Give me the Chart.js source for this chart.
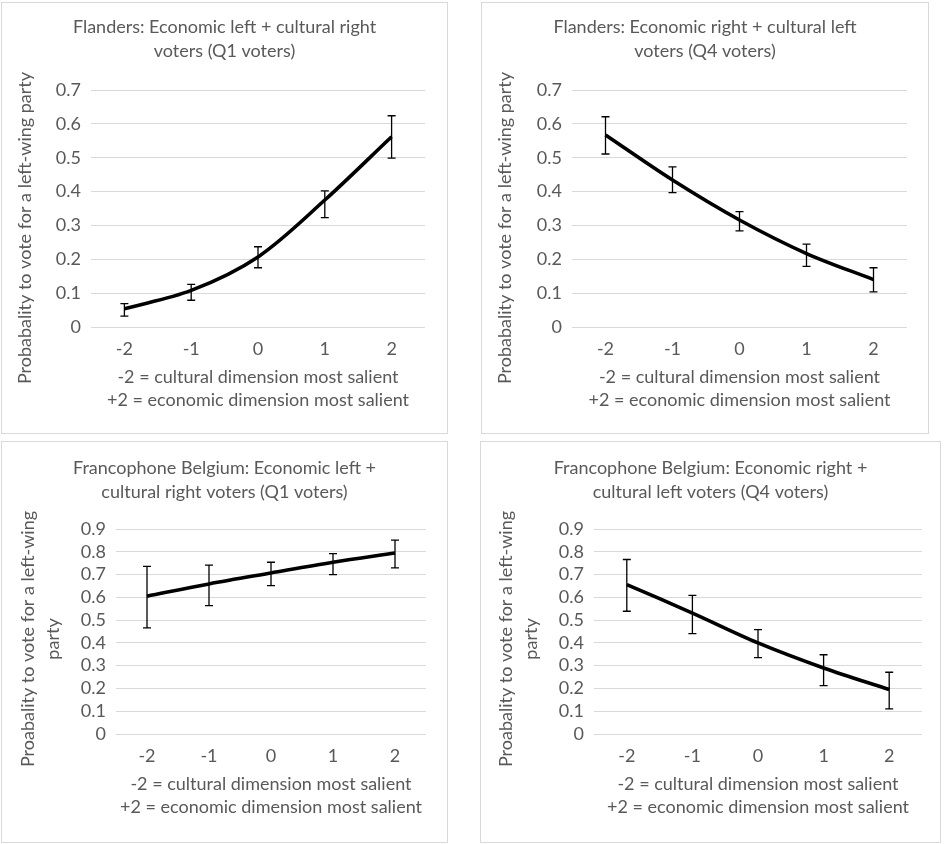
<!DOCTYPE html>
<html>
<head>
<meta charset="utf-8">
<script src="https://cdn.jsdelivr.net/npm/chart.js@4/dist/chart.umd.min.js"></script>
<style>
  html, body { margin: 0; padding: 0; background: #fff; }
  body { width: 944px; height: 844px; position: relative; overflow: hidden; }
  .panel { position: absolute; border: 1px solid #d9d9d9; background: #fff; }
  .panel canvas { display: block; }
</style>
</head>
<body>
<div class="panel" style="left:1px;top:2px;width:445px;height:430px"><canvas id="c1"></canvas></div>
<div class="panel" style="left:481px;top:2px;width:446px;height:430px"><canvas id="c2"></canvas></div>
<div class="panel" style="left:1px;top:441px;width:445px;height:400px"><canvas id="c3"></canvas></div>
<div class="panel" style="left:480px;top:441px;width:459px;height:400px"><canvas id="c4"></canvas></div>
<script>
// categories on the x axis
const categories = ['-2', '-1', '0', '1', '2'];

// Flanders: economic left + cultural right (Q1)
const flQ1 = [0.054, 0.108, 0.207, 0.375, 0.562];
const flQ1Lo = [0.032, 0.079, 0.175, 0.323, 0.499];
const flQ1Hi = [0.069, 0.126, 0.237, 0.402, 0.624];

// Flanders: economic right + cultural left (Q4)
const flQ4 = [0.567, 0.434, 0.316, 0.217, 0.140];
const flQ4Lo = [0.511, 0.397, 0.284, 0.179, 0.104];
const flQ4Hi = [0.621, 0.473, 0.341, 0.245, 0.175];

// Francophone Belgium: economic left + cultural right (Q1)
const frQ1 = [0.605, 0.659, 0.707, 0.754, 0.795];
const frQ1Lo = [0.466, 0.564, 0.651, 0.700, 0.729];
const frQ1Hi = [0.736, 0.741, 0.754, 0.792, 0.851];

// Francophone Belgium: economic right + cultural left (Q4)
const frQ4 = [0.656, 0.531, 0.400, 0.290, 0.195];
const frQ4Lo = [0.539, 0.441, 0.335, 0.212, 0.110];
const frQ4Hi = [0.766, 0.609, 0.458, 0.348, 0.271];

const xTitle = ['-2 = cultural dimension most salient', '+2 = economic dimension most salient'];
const gray = '#595959';
const fontFamily = 'Lato, "Open Sans", sans-serif';
const fs = 18;

// error bars drawn through the chart's own scales
const errorBars = {
  id: 'errorBars',
  afterDatasetsDraw(chart, args, opts) {
    const { ctx, scales: { x, y } } = chart;
    ctx.save();
    ctx.strokeStyle = '#000';
    ctx.lineWidth = 1.3;
    opts.lo.forEach((lo, i) => {
      const px = x.getPixelForValue(i);
      const yl = y.getPixelForValue(lo);
      const yh = y.getPixelForValue(opts.hi[i]);
      ctx.beginPath();
      ctx.moveTo(px, yl); ctx.lineTo(px, yh);
      ctx.moveTo(px - 4, yl); ctx.lineTo(px + 4, yl);
      ctx.moveTo(px - 4, yh); ctx.lineTo(px + 4, yh);
      ctx.stroke();
    });
    ctx.restore();
  }
};

// rotated y axis title, placed like Excel does it (centred a bit lower than the plot)
const yTitle = {
  id: 'yTitle',
  afterDraw(chart, args, opts) {
    const ctx = chart.ctx;
    ctx.save();
    ctx.translate(opts.x, opts.y);
    ctx.rotate(-Math.PI / 2);
    ctx.fillStyle = gray;
    ctx.font = fs + 'px ' + fontFamily;
    ctx.textAlign = 'center';
    ctx.textBaseline = 'middle';
    opts.text.forEach((t, i) => ctx.fillText(t, 0, i * 25));
    ctx.restore();
  }
};

function makeChart(id, w, h, cfg) {
  const canvas = document.getElementById(id);
  canvas.width = w; canvas.height = h;
  canvas.style.width = w + 'px'; canvas.style.height = h + 'px';
  const xH = 85;
  new Chart(canvas, {
    type: 'line',
    data: {
      labels: categories,
      datasets: [{
        data: cfg.values,
        borderColor: '#000',
        borderWidth: 3.6,
        pointRadius: 0,
        tension: 0.33,
        fill: false
      }]
    },
    options: {
      responsive: false,
      animation: false,
      layout: { padding: { left: 0, right: 0, top: 0, bottom: h - cfg.bottom - xH } },
      plugins: {
        legend: { display: false },
        tooltip: { enabled: false },
        title: {
          display: true,
          text: cfg.title,
          color: gray,
          font: { family: fontFamily, size: fs, weight: 'normal', lineHeight: '24.3px' },
          padding: { top: cfg.titleTop, bottom: cfg.top - cfg.titleTop - 48.6 }
        },
        errorBars: { lo: cfg.lo, hi: cfg.hi },
        yTitle: { text: cfg.yTitle, x: cfg.yTitleX, y: cfg.yTitleY }
      },
      scales: {
        x: {
          offset: true,
          grid: { display: false, offset: true },
          border: { display: false },
          ticks: { color: gray, padding: 3, font: { family: fontFamily, size: fs } },
          title: {
            display: true, text: xTitle, color: gray,
            font: { family: fontFamily, size: fs, lineHeight: '23.2px' },
            padding: { top: 0, bottom: 0 }
          },
          afterFit: s => { s.height = xH; }
        },
        y: {
          min: 0, max: cfg.max,
          grid: { color: '#d9d9d9', drawTicks: false },
          border: { display: false },
          ticks: { stepSize: 0.1, autoSkip: false, color: gray, padding: 10, font: { family: fontFamily, size: fs } },
          afterFit: s => { s.width = cfg.left; }
        },
        right: {
          position: 'right',
          display: true,
          grid: { display: false },
          border: { display: false },
          ticks: { display: false },
          afterFit: s => { s.width = w - cfg.right; }
        }
      }
    },
    plugins: [errorBars, yTitle]
  });
}

makeChart('c1', 445, 430, {
  title: ['Flanders: Economic left + cultural right', 'voters (Q1 voters)'],
  yTitle: ['Probabality to vote for a left-wing party'],
  values: flQ1, lo: flQ1Lo, hi: flQ1Hi, max: 0.7,
  left: 89, right: 423, top: 87, bottom: 324, titleTop: 12, yTitleX: 23, yTitleY: 225
});
makeChart('c2', 446, 430, {
  title: ['Flanders: Economic right + cultural left', 'voters (Q4 voters)'],
  yTitle: ['Probabality to vote for a left-wing party'],
  values: flQ4, lo: flQ4Lo, hi: flQ4Hi, max: 0.7,
  left: 90, right: 425, top: 87, bottom: 324, titleTop: 12, yTitleX: 23, yTitleY: 225
});
makeChart('c3', 445, 400, {
  title: ['Francophone Belgium: Economic left +', 'cultural right voters (Q1 voters)'],
  yTitle: ['Proabality to vote for a left-wing', 'party'],
  values: frQ1, lo: frQ1Lo, hi: frQ1Hi, max: 0.9,
  left: 114, right: 424, top: 87, bottom: 292, titleTop: 14, yTitleX: 26, yTitleY: 197
});
makeChart('c4', 459, 400, {
  title: ['Francophone Belgium: Economic right +', 'cultural left voters (Q4 voters)'],
  yTitle: ['Proabality to vote for a left-wing', 'party'],
  values: frQ4, lo: frQ4Lo, hi: frQ4Hi, max: 0.9,
  left: 113, right: 441, top: 87, bottom: 292, titleTop: 14, yTitleX: 25, yTitleY: 197
});
</script>
</body>
</html>
